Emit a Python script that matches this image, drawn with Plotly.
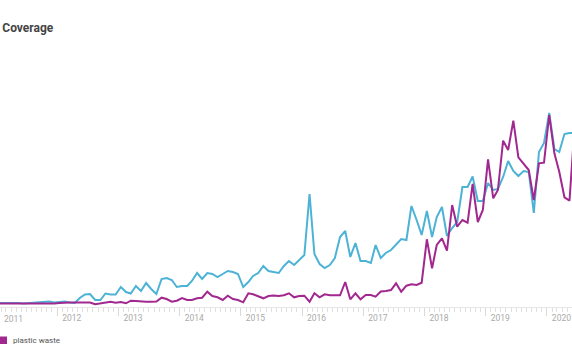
import plotly.graph_objects as go
import pandas as pd

# Monthly dates (mid-month), Jan 2011 .. Jun 2020
months = [d.strftime("%Y-%m-%d") for d in pd.date_range("2011-01-01", periods=114, freq="MS") + pd.Timedelta(days=14)]

# Series 1 (cyan, unnamed in legend)
coverage_other = [
    2, 2, 2.5, 2, 2, 1.5, 2, 2, 3, 3.5, 3.5, 2.5,
    3, 3.5, 2.5, 2, 7, 10.5, 11, 5, 5, 11.5, 10.5, 10.5,
    18, 13, 11.5, 19, 14, 22, 16, 11, 26, 27, 25, 18,
    19, 19, 24, 32, 26, 32, 31, 28, 31, 34, 33, 31,
    18, 23, 29, 32, 39, 34, 33, 32, 39, 44, 40, 45,
    50, 111, 51, 41, 37, 40, 47, 68, 74, 48, 62, 44,
    44, 42, 60, 47, 52, 55, 60, 66, 65, 99, 85, 70,
    94, 68, 88, 98, 69, 77, 83, 118, 118, 128.5, 104, 104,
    122, 115, 116, 128, 144, 134, 129, 134, 133, 92, 153, 162,
    192, 156, 153, 171, 172, 172,
]

# Series 2 (purple): plastic waste
plastic_waste = [
    1.5, 1.5, 1.5, 1, 1.5, 1.5, 1, 1.5, 1.5, 1.5, 1, 1.5,
    2, 2.5, 2.5, 2.5, 2.5, 2.5, 2.5, 0.7, 1.5, 2.7, 3.3, 2.3,
    3, 1.7, 4.3, 4, 3.5, 3.3, 3.3, 3.5, 7.3, 6, 3.3, 4.3,
    7, 5, 5, 6.7, 7.3, 13.3, 9, 7.7, 5, 9.3, 6, 5,
    2.7, 11.7, 10.7, 8.3, 6.7, 9, 9.5, 9, 9.7, 11.7, 7.7, 9,
    9.3, 3.3, 11.7, 7.7, 10.7, 9.7, 9.7, 9.7, 23, 5.7, 11.7, 5.7,
    10, 10, 8.3, 13.5, 14, 15, 21.7, 13.3, 19.3, 20.7, 20, 22.3,
    65.7, 36.7, 60, 66.7, 54.3, 100, 78.3, 85, 82.3, 121, 83, 95,
    145.7, 106.7, 115, 164.3, 155, 184.3, 147.7, 141, 135, 105, 141.7, 142.3,
    190, 151.7, 133.3, 107.7, 104.3, 180,
]

year_ticks = ["2011-01-01", "2012-01-01", "2013-01-01", "2014-01-01", "2015-01-01",
              "2016-01-01", "2017-01-01", "2018-01-01", "2019-01-01", "2020-01-01"]
year_labels = ["2011", "2012", "2013", "2014", "2015", "2016", "2017", "2018", "2019", "2020"]

CYAN = "#4db3d6"
PURPLE = "#a0288f"
TICKFONT = dict(family="Roboto, sans-serif", size=8.5, color="#aaaaaa")

fig = go.Figure()
fig.add_trace(go.Scatter(x=months, y=coverage_other, mode="lines",
                         line=dict(color=CYAN, width=2), showlegend=False))
fig.add_trace(go.Scatter(x=months, y=plastic_waste, mode="lines", name="plastic waste",
                         line=dict(color=PURPLE, width=2), showlegend=False))

fig.update_layout(
    width=572, height=364,
    margin=dict(l=0, r=0, t=40, b=57),
    paper_bgcolor="white", plot_bgcolor="white",
    font=dict(family="Roboto, sans-serif"),
    title=dict(text="<b>Coverage</b>", x=0.004, xref="container", xanchor="left",
               y=1 - 28 / 364, yref="container", yanchor="middle",
               font=dict(family="Roboto, sans-serif", size=12, color="#444444")),
    xaxis=dict(
        type="date",
        range=["2011-01-25", "2020-05-30"],
        tickvals=year_ticks, ticktext=year_labels,
        ticks="outside", ticklen=8, tickwidth=1, tickcolor="#d9d9d9",
        ticklabelposition="outside right",
        ticklabelshift=4, ticklabelstandoff=3,
        tickfont=TICKFONT,
        minor=dict(dtick="M1", tick0="2011-01-01", ticks="outside", ticklen=4,
                   tickcolor="#e0e0e0", showgrid=False),
        showline=True, linecolor="#e6e6e6", linewidth=1,
        showgrid=False, zeroline=False, fixedrange=True,
    ),
    yaxis=dict(range=[-2, 265], visible=False, fixedrange=True),
    shapes=[dict(type="rect", xref="paper", yref="paper",
                 x0=0.0, x1=7 / 572, y0=(307 - 344) / 267, y1=(307 - 336.5) / 267,
                 fillcolor=PURPLE, line=dict(width=0))],
    annotations=[
        dict(text="plastic waste", xref="paper", yref="paper",
             x=11 / 572, y=(307 - 340.5) / 267, xanchor="left", yanchor="middle",
             showarrow=False,
             font=dict(family="Roboto, sans-serif", size=8, color="#555555")),
        # first year label: its tick falls just left of the visible range
        dict(text=year_labels[0], xref="paper", yref="paper",
             x=2 / 572, y=(307 - 318.5) / 267, xanchor="left", yanchor="middle",
             showarrow=False, font=TICKFONT),
    ],
)

fig.write_html("out.html", config={"displayModeBar": False},
               post_script="document.body.style.margin='0';")
